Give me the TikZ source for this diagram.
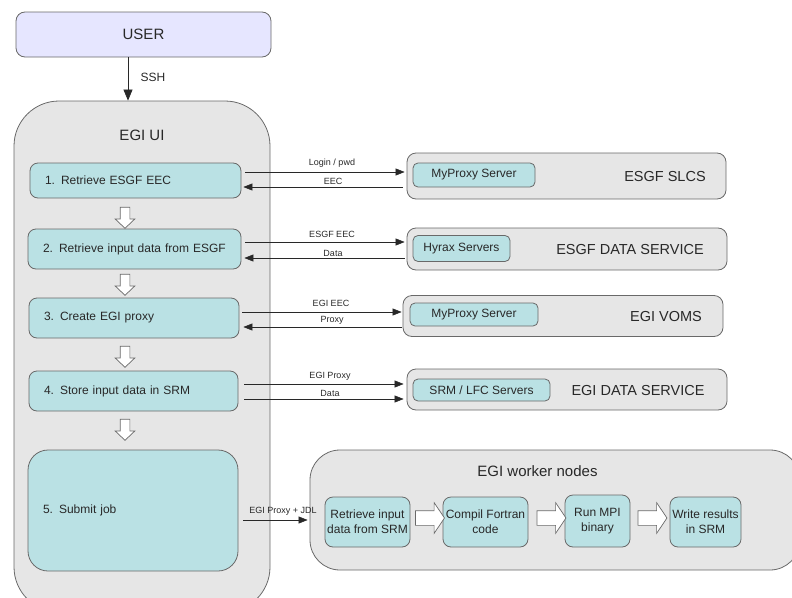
\documentclass[tikz,border=0pt]{standalone}
\usepackage{fontspec}
\setmainfont{Liberation Sans}
\usetikzlibrary{arrows.meta,shapes.arrows}
\definecolor{cyanbox}{RGB}{186,225,228}
\definecolor{graybox}{RGB}{230,230,230}
\definecolor{userbox}{RGB}{230,230,255}
\definecolor{edge}{RGB}{105,105,105}
\definecolor{ink}{RGB}{40,40,40}
\begin{document}
\begin{tikzpicture}[x=1pt,y=-1pt,
  every node/.style={text=ink},
  container/.style={draw=edge, fill=graybox, line width=0.8pt, inner sep=0pt},
  userst/.style={draw=edge, fill=userbox, line width=0.8pt, rounded corners=9pt, inner sep=0pt, font=\fontsize{15}{17}\selectfont},
  stepbox/.style={draw=edge, fill=cyanbox, line width=0.8pt, rounded corners=8pt, inner xsep=15pt, inner ysep=0pt, align=left, font=\fontsize{12}{14}\selectfont},
  srvbox/.style={draw=edge, fill=cyanbox, line width=0.8pt, rounded corners=5pt, inner sep=0pt, font=\fontsize{12}{14}\selectfont},
  wbox/.style={draw=edge, fill=cyanbox, line width=0.8pt, rounded corners=8pt, inner sep=0pt, align=center, font=\fontsize{12}{15}\selectfont},
  bigtitle/.style={font=\fontsize{15}{17}\selectfont},
  srvtitle/.style={font=\fontsize{14.5}{17}\selectfont},
  lbl/.style={font=\fontsize{9}{10}\selectfont, inner sep=0pt},
  arr/.style={draw=ink, line width=0.6pt, -{Triangle[length=9pt,width=7pt]}},
  arrS/.style={draw=ink, line width=0.7pt, -{Triangle[length=11pt,width=9pt]}},
  hdown/.style={single arrow, draw=edge, fill=white, line width=0.7pt, inner xsep=0pt, inner ysep=4.5pt,
    minimum width=19pt, single arrow head extend=5pt, single arrow tip angle=93, minimum height=21pt, rotate=-90},
  hright/.style={single arrow, draw=edge, fill=white, line width=0.7pt, inner xsep=0pt, inner ysep=7pt,
    minimum width=30pt, single arrow head extend=8pt, single arrow tip angle=112, minimum height=29pt}
]
\useasboundingbox (0,0) rectangle (792,597);
\clip (0,0) rectangle (792,597);

% USER
\node[userst, minimum width=255pt, minimum height=45pt] (user) at (143.5,34.5) {USER};

% EGI UI container
\node[container, rounded corners=45pt, minimum width=256pt, minimum height=511pt] (ui) at (142,356.5) {};
\node[bigtitle] (uititle) at (142,135) {EGI UI};

% SSH
\coordinate (sshx) at (128,0);
\draw[arrS] (user.south -| sshx) -- (ui.north -| sshx);
\node[lbl, font=\fontsize{12}{14}\selectfont] (sshl) at (153,77) {SSH};

% steps
\node[stepbox, minimum width=211pt, text width=181pt, minimum height=35pt] (s1) at (135.5,180.5) {1. Retrieve ESGF EEC};
\node[stepbox, minimum width=213pt, text width=183pt, minimum height=40pt] (s2) at (134.5,249) {2. Retrieve input data from ESGF};
\node[stepbox, minimum width=210pt, text width=180pt, minimum height=40pt] (s3) at (134,318) {3. Create EGI proxy};
\node[stepbox, minimum width=209pt, text width=179pt, minimum height=40pt] (s4) at (133.5,391) {4. Store input data in SRM};
\node[stepbox, rounded corners=20pt, minimum width=210pt, text width=180pt, minimum height=121pt] (s5) at (133,510.5) {5. Submit job};

% hollow down arrows
\node[hdown] (d1) at (125,215.5) {};
\node[hdown] (d2) at (125,282.5) {};
\node[hdown] (d3) at (125,354.5) {};
\node[hdown] (d4) at (125,427.5) {};

% ESGF SLCS
\node[container, rounded corners=9pt, minimum width=319pt, minimum height=46pt] (slcs) at (566.5,176) {};
\node[srvbox, minimum width=122pt, minimum height=24pt] (mp1) at (474,175) {MyProxy Server};
\node[srvtitle] (slcst) at (665,177) {ESGF SLCS};

% ESGF DATA SERVICE
\node[container, rounded corners=9pt, minimum width=320pt, minimum height=42pt] (esgfds) at (567,249) {};
\node[srvbox, minimum width=97pt, minimum height=26pt] (hyrax) at (461.5,248.5) {Hyrax Servers};
\node[srvtitle] (esgfdst) at (630,250) {ESGF DATA SERVICE};

% EGI VOMS
\node[container, rounded corners=9pt, minimum width=320pt, minimum height=41pt] (voms) at (563,316) {};
\node[srvbox, minimum width=128pt, minimum height=23pt] (mp2) at (474,314.5) {MyProxy Server};
\node[srvtitle] (vomst) at (666,317) {EGI VOMS};

% EGI DATA SERVICE
\node[container, rounded corners=9pt, minimum width=320pt, minimum height=41pt] (egids) at (567,389.5) {};
\node[srvbox, minimum width=137pt, minimum height=22pt] (srm) at (481.5,390) {SRM / LFC Servers};
\node[srvtitle] (egidst) at (638,391) {EGI DATA SERVICE};

% arrows step 1
\draw[arr, shorten <=4pt, shorten >=2pt] (s1.east |- 0,172) -- (slcs.west |- 0,172);
\node[lbl] (l1a) at (332,163) {Login / pwd};
\draw[arr, shorten <=4pt, shorten >=2pt] (slcs.west |- 0,187) -- (s1.east |- 0,187);
\node[lbl] (l1b) at (333,181) {EEC};
% step 2
\draw[arr, shorten <=4pt, shorten >=2pt] (s2.east |- 0,242) -- (esgfds.west |- 0,242);
\node[lbl] (l2a) at (332,234.5) {ESGF EEC};
\draw[arr, shorten <=2pt, shorten >=3pt] (esgfds.west |- 0,258) -- (s2.east |- 0,258);
\node[lbl] (l2b) at (333,253) {Data};
% step 3
\draw[arr, shorten <=3pt, shorten >=1pt] (s3.east |- 0,312) -- (voms.west |- 0,312);
\node[lbl] (l3a) at (331,303) {EGI EEC};
\draw[arr, shorten <=1pt, shorten >=4pt] (voms.west |- 0,327) -- (s3.east |- 0,327);
\node[lbl] (l3b) at (332,320.5) {Proxy};
% step 4
\draw[arr, shorten <=6pt, shorten >=3pt] (s4.east |- 0,384) -- (egids.west |- 0,384);
\node[lbl] (l4a) at (330,376) {EGI Proxy};
\draw[arr, shorten <=6pt, shorten >=3pt] (s4.east |- 0,399) -- (egids.west |- 0,399);
\node[lbl] (l4b) at (330,393) {Data};

% EGI worker nodes
\node[container, rounded corners=30pt, minimum width=490pt, minimum height=120pt] (wn) at (555,510) {};
\node[bigtitle] (wnt) at (537.5,471) {EGI worker nodes};
\node[wbox, minimum width=85pt, minimum height=50pt] (w1) at (367.5,522) {Retrieve input\\data from SRM};
\node[wbox, minimum width=85pt, minimum height=50pt] (w2) at (485.5,522) {Compil Fortran\\code};
\node[wbox, minimum width=65pt, minimum height=52pt] (w3) at (597.5,521) {Run MPI\\binary};
\node[wbox, minimum width=71pt, minimum height=50pt] (w4) at (705.5,522) {Write results\\in SRM};
\node[hright] (r1) at (427.5,518) {};
\node[hright] (r2) at (549,518) {};
\node[hright] (r3) at (650,518) {};

\draw[arr, shorten <=5pt, shorten >=2pt] (s5.east |- 0,520) -- (wn.west |- 0,520);
\node[lbl] (l5) at (283,511) {EGI Proxy + JDL};
\end{tikzpicture}
\end{document}
